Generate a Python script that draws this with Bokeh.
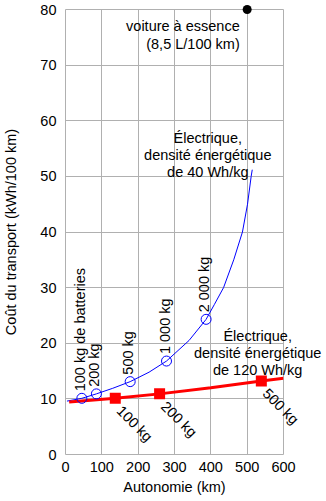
import math
from bokeh.plotting import figure
from bokeh.models import Range1d, FixedTicker
from bokeh.core.properties import value
from bokeh.embed import file_html
from bokeh.resources import INLINE

# ---- data ----
x_ticks = [0, 100, 200, 300, 400, 500, 600]
y_ticks = [0, 10, 20, 30, 40, 50, 60, 70, 80]

essence_autonomie = [500]
essence_cout = [80]

e40_labels = ["100 kg de batteries", "200 kg", "500 kg", "1 000 kg", "2 000 kg"]
e40_autonomie = [45, 85, 178, 278, 387]
e40_cout = [10.1, 10.9, 13.1, 16.8, 24.3]
e40_curve_autonomie = [4, 45, 85, 130, 178, 230, 278, 340, 387, 410, 435, 463, 487, 501, 511, 514]
e40_curve_cout = [9.6, 10.1, 10.9, 11.9, 13.1, 14.8, 16.8, 20.5, 24.3, 27, 30, 35, 40, 45, 50, 51.2]

e120_labels = ["100 kg", "200 kg", "500 kg"]
e120_autonomie = [137, 259, 539]
e120_cout = [10.1, 10.9, 13.2]
e120_curve_autonomie = [10, 137, 259, 400, 539, 600]
e120_curve_cout = [9.45, 10.1, 10.9, 12.0, 13.2, 13.7]

note_essence = "voiture à essence\n(8,5 L/100 km)"
note_e40 = "Électrique,\ndensité énergétique\nde 40 Wh/kg"
note_e120 = "Électrique,\ndensité énergétique\nde 120 Wh/kg"

FONT = value("Liberation Sans")
FS = "14.5px"
GRID = "#b0b0b0"

p = figure(width=326, height=501, x_range=Range1d(0, 600), y_range=Range1d(0, 80),
           output_backend="svg", toolbar_location=None,
           min_border_left=63, min_border_right=43, min_border_top=9, min_border_bottom=47)
p.background_fill_color = "white"
p.border_fill_color = "white"
p.outline_line_color = GRID
p.outline_line_width = 1

p.xaxis.ticker = FixedTicker(ticks=x_ticks)
p.yaxis.ticker = FixedTicker(ticks=y_ticks)
for ax in (p.xaxis[0], p.yaxis[0]):
    ax.axis_line_color = None
    ax.major_tick_line_color = None
    ax.minor_tick_line_color = None
    ax.major_tick_out = 0
    ax.major_tick_in = 0
    ax.minor_tick_out = 0
    ax.minor_tick_in = 0
    ax.major_label_text_font = "Liberation Sans"
    ax.major_label_text_font_size = FS
    ax.major_label_text_color = "#000000"
    ax.axis_label_text_font = "Liberation Sans"
    ax.axis_label_text_font_size = FS
    ax.axis_label_text_font_style = "normal"
    ax.axis_label_text_color = "#000000"

p.xaxis.axis_label = "Autonomie (km)"
p.yaxis.axis_label = "Coût du transport (kWh/100 km)"
p.xaxis.major_label_standoff = 7
p.xaxis.axis_label_standoff = 4
p.yaxis.major_label_standoff = 9
p.yaxis.axis_label_standoff = 18

p.xgrid.grid_line_color = GRID
p.ygrid.grid_line_color = GRID
p.xgrid.grid_line_width = 1
p.ygrid.grid_line_width = 1

# curves
p.line(e40_curve_autonomie, e40_curve_cout, line_color="#0000ff", line_width=1)
p.line(e120_curve_autonomie, e120_curve_cout, line_color="#ff0000", line_width=3)

# markers
p.scatter(e40_autonomie, e40_cout, marker="circle", size=10, fill_color=None,
          line_color="#0000ff", line_width=1)
p.scatter(e120_autonomie, e120_cout, marker="square", size=11, fill_color="#ff0000",
          line_color=None)
p.scatter(essence_autonomie, essence_cout, marker="circle", size=9, fill_color="#000000",
          line_color=None, level="overlay")

# point labels
p.text(x=e40_autonomie, y=e40_cout, text=e40_labels, angle=math.pi / 2,
       text_align="left", text_baseline="middle", x_offset=-2, y_offset=-7,
       text_font=FONT, text_font_size=FS, text_color="#000000")
p.text(x=e120_autonomie, y=e120_cout, text=e120_labels, angle=-math.pi / 4,
       text_align="left", text_baseline="middle", x_offset=4, y_offset=10,
       text_font=FONT, text_font_size=FS, text_color="#000000", level="overlay")

# notes
p.text(x=[479.5], y=[78.4], text=[note_essence], text_align="right", text_baseline="top",
       text_line_height=1.1, text_font=FONT, text_font_size=FS, text_color="#000000")
p.text(x=[391.6], y=[58.3], text=[note_e40], text_align="center", text_baseline="top",
       text_line_height=1.05, text_font=FONT, text_font_size=FS, text_color="#000000")
p.text(x=[529], y=[22.7], text=[note_e120], text_align="center", text_baseline="top",
       text_line_height=1.05, text_font=FONT, text_font_size=FS, text_color="#000000",
       level="overlay")

open("out.html", "w").write(file_html(p, INLINE))
